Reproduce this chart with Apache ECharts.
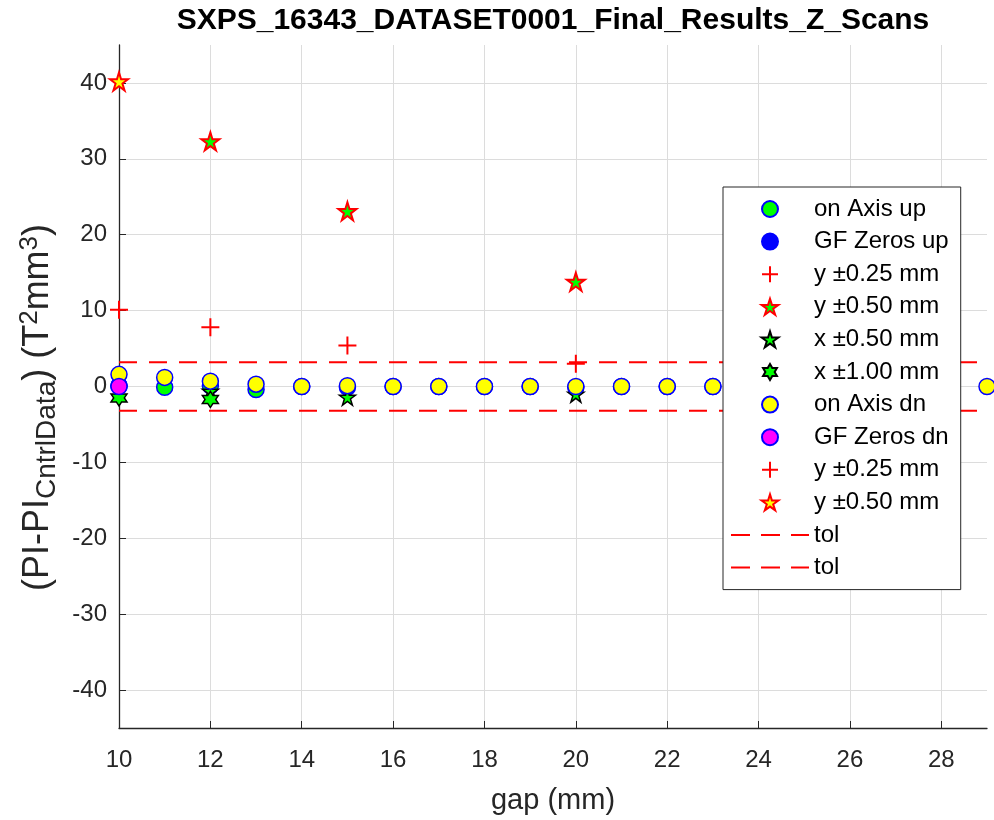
<!DOCTYPE html>
<html><head><meta charset="utf-8">
<script src="https://cdn.jsdelivr.net/npm/echarts@6/dist/echarts.min.js"></script>
<style>html,body{margin:0;padding:0;background:#fff}#c{width:994px;height:820px}</style>
</head><body><div id="c"></div>
<script>
// ---- data ----
const xTicks = [10, 12, 14, 16, 18, 20, 22, 24, 26, 28];
const yTicks = [-40, -30, -20, -10, 0, 10, 20, 30, 40];

const gapUp      = [10, 11, 12, 13, 14, 15, 16, 17, 18, 19, 20, 21, 22, 23];
const onAxisUp   = [0.1, -0.1, 0.1, -0.4, 0.0, -0.1, 0.0, 0.0, 0.0, 0.0, -0.1, 0.0, 0.0, 0.0];
const gfUpGap    = [10];
const gfZerosUp  = [0.1];
const y025UpGap  = [12, 15, 20];
const y025Up     = [7.8, 5.4, 3.0];
const y050UpGap  = [12, 15, 20];
const y050Up     = [32.3, 23.1, 13.8];
const x050Gap    = [12, 15, 20];
const x050       = [-0.6, -1.4, -1.0];
const x100Gap    = [10, 12];
const x100       = [-1.5, -1.7];

const gapDn      = [10, 11, 12, 13, 14, 15, 16, 17, 18, 19, 20, 21, 22, 23, 24, 25, 26, 27, 28, 29];
const onAxisDn   = [1.6, 1.2, 0.7, 0.3, 0.0, 0.1, 0.0, 0.0, 0.0, 0.0, 0.0, 0.0, 0.0, 0.0, 0.0, 0.0, 0.0, 0.0, 0.0, 0.0];
const gfDnGap    = [10];
const gfZerosDn  = [0.0];
const y025DnGap  = [10];
const y025Dn     = [10.1];
const y050DnGap  = [10];
const y050Dn     = [40.2];

const tolGap     = [10, 29];
const tolHigh    = [3.2, 3.2];
const tolLow     = [-3.2, -3.2];

// ---- helpers ----
const zip = (xs, ys) => xs.map((x, i) => [x, ys[i]]);
const STAR = 'path://M0,-100L22,-31L95,-31L36,12L59,81L0,38L-59,81L-36,12L-95,-31L-22,-31Z';
const HEX  = 'path://M0,-100L29,-50L87,-50L58,0L87,50L29,50L0,100L-29,50L-87,50L-58,0L-87,-50L-29,-50Z';
const PLUS = 'path://M0,-10L0,10M-10,0L10,0';
const DASH_ICON = 'path://M0,0h19v2h-19Z M30,0h19v2h-19Z M60,0h18v2h-18Z';
const FONT = '"Liberation Sans", Arial, Helvetica, sans-serif';

function sc(name, data, symbol, size, fill, edge, bw) {
  return {
    type: 'scatter', name, data, symbol, symbolSize: size,
    itemStyle: { color: fill, borderColor: edge, borderWidth: bw, opacity: 1 },
    emphasis: { disabled: true }
  };
}
function tol(name, data) {
  return {
    type: 'line', name, data, symbol: 'none',
    lineStyle: { color: '#ff0000', width: 2, type: [18, 12] },
    itemStyle: { color: '#ff0000' },
    emphasis: { disabled: true }
  };
}

const series = [
  sc('on Axis up',     zip(gapUp, onAxisUp),   'circle', 16, '#00ff00', '#0000ff', 1.5),
  sc('GF Zeros up',    zip(gfUpGap, gfZerosUp),'circle', 16, '#0000ff', '#0000ff', 1.5),
  sc('y ±0.25 mm#1',   zip(y025UpGap, y025Up), PLUS,     18, '#ff0000', '#ff0000', 2),
  sc('y ±0.50 mm#1',   zip(y050UpGap, y050Up), STAR,     18, '#00ff00', '#ff0000', 2),
  sc('x ±0.50 mm',     zip(x050Gap, x050),     STAR,     16, '#00ff00', '#000000', 1.5),
  sc('x ±1.00 mm',     zip(x100Gap, x100),     HEX,      16, '#00ff00', '#000000', 1.5),
  sc('on Axis dn',     zip(gapDn, onAxisDn),   'circle', 16, '#ffff00', '#0000ff', 1.5),
  sc('GF Zeros dn',    zip(gfDnGap, gfZerosDn),'circle', 16, '#ff00ff', '#0000ff', 1.5),
  sc('y ±0.25 mm#2',   zip(y025DnGap, y025Dn), PLUS,     18, '#ff0000', '#ff0000', 2),
  sc('y ±0.50 mm#2',   zip(y050DnGap, y050Dn), STAR,     18, '#ffff00', '#ff0000', 2),
  tol('tol#1', zip(tolGap, tolHigh)),
  tol('tol#2', zip(tolGap, tolLow))
];

const legendData = series.map(s => s.type === 'line'
  ? { name: s.name, icon: DASH_ICON, itemStyle: { color: '#ff0000', borderWidth: 0 } }
  : { name: s.name });

const chart = echarts.init(document.getElementById('c'), null, { renderer: 'canvas' });
chart.setOption({
  animation: false,
  backgroundColor: '#ffffff',
  textStyle: { fontFamily: FONT },
  title: {
    text: 'SXPS_16343_DATASET0001_Final_Results_Z_Scans',
    left: 548, textAlign: 'center', top: 1,
    textStyle: { fontSize: 30, fontWeight: 'bold', color: '#000000', fontFamily: FONT }
  },
  grid: { left: 119, right: 7, top: 45, bottom: 91, containLabel: false },
  legend: {
    orient: 'vertical', left: 723, top: 187,
    padding: [10, 12, 10, 8],
    itemWidth: 78, itemHeight: 16, itemGap: 8.6,
    backgroundColor: '#ffffff', borderColor: '#262626', borderWidth: 1,
    selectedMode: false,
    formatter: n => n.replace(/#.*$/, ''),
    textStyle: { fontSize: 24, lineHeight: 23, color: '#000000', fontFamily: FONT },
    data: legendData
  },
  xAxis: {
    type: 'value', min: 10, max: 29,
    name: 'gap (mm)', nameLocation: 'middle', nameGap: 58,
    nameTextStyle: { fontSize: 29, color: '#262626', fontFamily: FONT },
    axisLine: { onZero: false, lineStyle: { color: '#262626', width: 1.3 } },
    axisTick: { show: true, inside: true, length: 7, customValues: xTicks, lineStyle: { color: '#262626' } },
    axisLabel: { customValues: xTicks, fontSize: 24, margin: 20, color: '#262626', fontFamily: FONT },
    splitLine: { show: true, lineStyle: { color: '#dcdcdc', width: 1 } }
  },
  yAxis: {
    type: 'value', min: -45, max: 45,
    name: '(PI-PI{sub|CntrlData}) (T{sup|2}mm{sup|3})',
    nameLocation: 'middle', nameGap: 58,
    nameTextStyle: {
      fontSize: 36, color: '#262626', fontFamily: FONT, padding: [0, 42, 0, 0],
      rich: {
        sub: { fontSize: 28, color: '#262626', fontFamily: FONT, padding: [17, 0, 0, 0] },
        sup: { fontSize: 26, color: '#262626', fontFamily: FONT, padding: [0, 0, 17, 0] }
      }
    },
    axisLine: { show: true, onZero: false, lineStyle: { color: '#262626', width: 1.3 } },
    axisTick: { show: true, inside: true, length: 7, customValues: yTicks, lineStyle: { color: '#262626' } },
    axisLabel: { customValues: yTicks, fontSize: 24, margin: 12, color: '#262626', fontFamily: FONT },
    splitLine: { show: true, lineStyle: { color: '#dcdcdc', width: 1 } }
  },
  series
});
</script>
</body></html>
